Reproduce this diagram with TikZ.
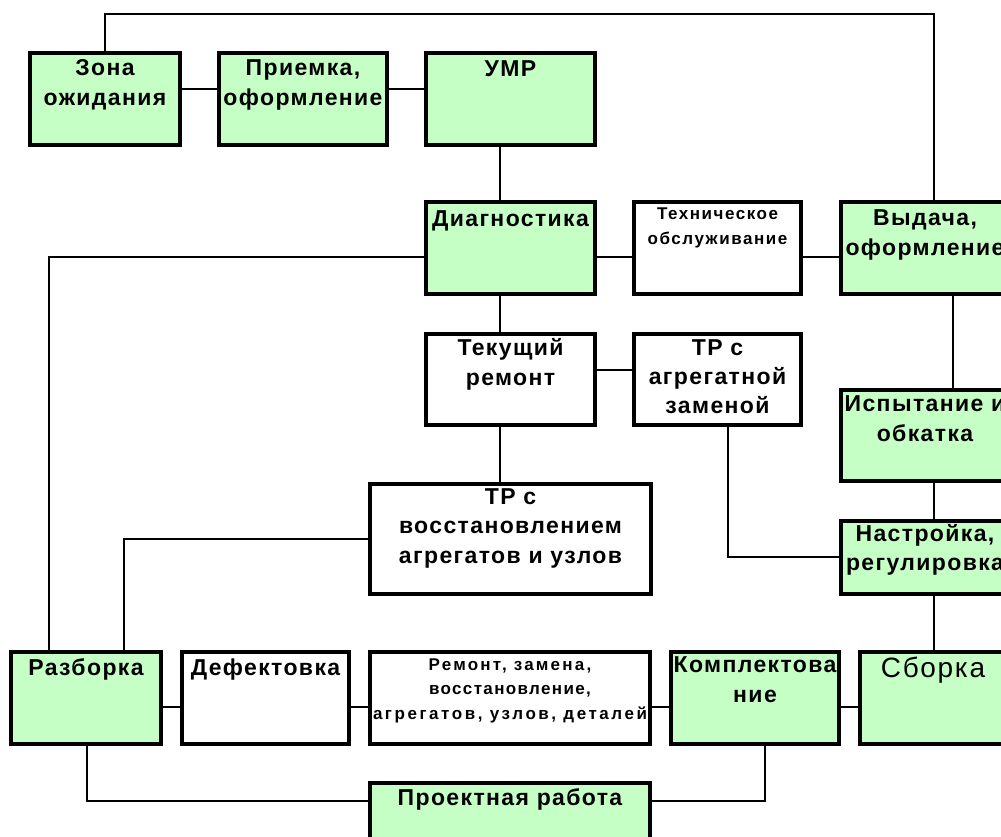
\documentclass[tikz,border=0pt]{standalone}
\usepackage{fontspec}
\setmainfont{Liberation Sans}
\newfontfamily\bigfam[LetterSpace=6]{Liberation Sans}
\newfontfamily\smallfam[LetterSpace=9]{Liberation Sans}
\newfontfamily\remA[LetterSpace=13]{Liberation Sans}
\newfontfamily\remB[LetterSpace=8]{Liberation Sans}
\newfontfamily\remC[LetterSpace=15]{Liberation Sans}
\newfontfamily\regfam[LetterSpace=6]{Liberation Sans}
\newcommand\fb[1]{\rule{0pt}{#1pt}}
\definecolor{boxgreen}{RGB}{198,255,198}
\tikzset{
  box/.style={draw=black, line width=4pt, fill=white, inner sep=0pt, rectangle},
  gbox/.style={box, fill=boxgreen},
  conn/.style={draw=black, line width=2pt},
  txt/.style={anchor=north, inner sep=0pt, align=center},
  bigtxt/.style={txt, font=\bigfam\bfseries\fontsize{23}{30}\selectfont},
  smalltxt/.style={txt, font=\smallfam\bfseries\fontsize{17}{25}\selectfont},
  regtxt/.style={txt, font=\regfam\fontsize{28}{32}\selectfont},
}
\begin{document}
\begin{tikzpicture}[x=1pt, y=-1pt]
\useasboundingbox (0,0) rectangle (1001,836);
\clip (0,0) rectangle (1001,836);
\fill[white] (0,0) rectangle (1001,836);
% helper coordinates
\coordinate (ytop) at (0,14);
\coordinate (yr1) at (0,89);
\coordinate (yr2) at (0,257);
\coordinate (yr3) at (0,370);
\coordinate (ytvr) at (0,539);
\coordinate (ytra) at (0,557);
\coordinate (yr5) at (0,707);
\coordinate (ybot) at (0,801);
\coordinate (xc) at (500,0);
\coordinate (xl1) at (49,0);
\coordinate (xl2) at (124,0);
\coordinate (xr1) at (953,0);
\coordinate (xr2) at (934,0);
\coordinate (xtra) at (728,0);
\coordinate (xrb) at (87,0);
\coordinate (xkm) at (765,0);

% boxes
\node[gbox, minimum width=150pt, minimum height=92pt] (zona) at (105,99) {};
\node[gbox, minimum width=168pt, minimum height=92pt] (priem) at (303,99) {};
\node[gbox, minimum width=169pt, minimum height=92pt] (umr) at (510.5,99) {};
\node[gbox, minimum width=169pt, minimum height=92pt] (diag) at (510.5,248) {};
\node[box, minimum width=167pt, minimum height=92pt] (to) at (717.5,248) {};
\node[gbox, minimum width=168pt, minimum height=92pt] (vyd) at (925,248) {};
\node[box, minimum width=169pt, minimum height=91pt] (tek) at (510.5,379.5) {};
\node[box, minimum width=167pt, minimum height=91pt] (tra) at (717.5,379.5) {};
\node[gbox, minimum width=168pt, minimum height=91pt] (isp) at (925,435.5) {};
\node[box, minimum width=281pt, minimum height=110pt] (tvr) at (510.5,539) {};
\node[gbox, minimum width=168pt, minimum height=73pt] (nast) at (925,557.5) {};
\node[gbox, minimum width=150pt, minimum height=92pt] (razb) at (86,698) {};
\node[box, minimum width=167pt, minimum height=92pt] (def) at (265.5,698) {};
\node[box, minimum width=280pt, minimum height=92pt] (rem) at (510,698) {};
\node[gbox, minimum width=168pt, minimum height=92pt] (kompl) at (755,698) {};
\node[gbox, minimum width=146pt, minimum height=92pt] (sborka) at (933,698) {};
\node[gbox, minimum width=280pt, minimum height=97pt] (proj) at (510,831.5) {};

% connectors
\draw[conn] (zona.north) -- (zona.north |- ytop) -| (vyd.north -| xr2);
\draw[conn] (zona.east |- yr1) -- (priem.west |- yr1);
\draw[conn] (priem.east |- yr1) -- (umr.west |- yr1);
\draw[conn] (umr.south -| xc) -- (diag.north -| xc);
\draw[conn] (diag.east |- yr2) -- (to.west |- yr2);
\draw[conn] (to.east |- yr2) -- (vyd.west |- yr2);
\draw[conn] (diag.west |- yr2) -| (razb.north -| xl1);
\draw[conn] (vyd.south -| xr1) -- (isp.north -| xr1);
\draw[conn] (isp.south -| xr2) -- (nast.north -| xr2);
\draw[conn] (nast.south -| xr2) -- (sborka.north -| xr2);
\draw[conn] (diag.south -| xc) -- (tek.north -| xc);
\draw[conn] (tek.east |- yr3) -- (tra.west |- yr3);
\draw[conn] (tek.south -| xc) -- (tvr.north -| xc);
\draw[conn] (tvr.west |- ytvr) -| (razb.north -| xl2);
\draw[conn] (tra.south -| xtra) |- (nast.west |- ytra);
\draw[conn] (razb.east |- yr5) -- (def.west |- yr5);
\draw[conn] (def.east |- yr5) -- (rem.west |- yr5);
\draw[conn] (rem.east |- yr5) -- (kompl.west |- yr5);
\draw[conn] (kompl.east |- yr5) -- (sborka.west |- yr5);
\draw[conn] (razb.south -| xrb) |- (proj.west |- ybot);
\draw[conn] (kompl.south -| xkm) |- (proj.east |- ybot);

% texts
\node[bigtxt] (zona-t) at (zona.north) {\fb{24}Зона\\ожидания};
\node[bigtxt] (priem-t) at (priem.north) {\fb{24}Приемка,\\оформление};
\node[bigtxt] (umr-t) at (umr.north) {\fb{25}УМР};
\node[bigtxt] (diag-t) at (diag.north) {\fb{26}Диагностика};
\node[smalltxt] (to-t) at (to.north) {\fb{19}Техническое\\обслуживание};
\node[bigtxt] (vyd-t) at (vyd.north) {\fb{25}Выдача,\\оформление};
\node[bigtxt] (tek-t) at (tek.north) {\fb{23}Текущий\\ремонт};
\node[bigtxt, font=\bigfam\bfseries\fontsize{23}{29}\selectfont] (tra-t) at (tra.north) {\fb{23}ТР с\\агрегатной\\заменой};
\node[bigtxt] (isp-t) at (isp.north) {\fb{23}Испытание и\\обкатка};
\node[bigtxt, font=\bigfam\bfseries\fontsize{23}{29.5}\selectfont] (tvr-t) at (tvr.north) {\fb{22}ТР с\\восстановлением\\агрегатов и узлов};
\node[bigtxt, font=\bigfam\bfseries\fontsize{23}{29}\selectfont] (nast-t) at (nast.north) {\fb{22}Настройка,\\регулировка};
\node[bigtxt] (razb-t) at (razb.north) {\fb{25}Разборка};
\node[bigtxt] (def-t) at (def.north) {\fb{25}Дефектовка};
\node[txt, font=\bfseries\fontsize{17}{24.5}\selectfont] (rem-t) at (rem.north) {\fb{20}{\remA\bfseries Ремонт, замена,}\\{\remB\bfseries восстановление,}\\{\remC\bfseries агрегатов, узлов, деталей}};
\node[bigtxt] (kompl-t) at (kompl.north) {\fb{22}Комплектова\\ние};
\node[regtxt] (sborka-t) at (sborka.north) {\fb{27}Сборка};
\node[bigtxt] (proj-t) at (proj.north) {\fb{24}Проектная работа};
\end{tikzpicture}
\end{document}
